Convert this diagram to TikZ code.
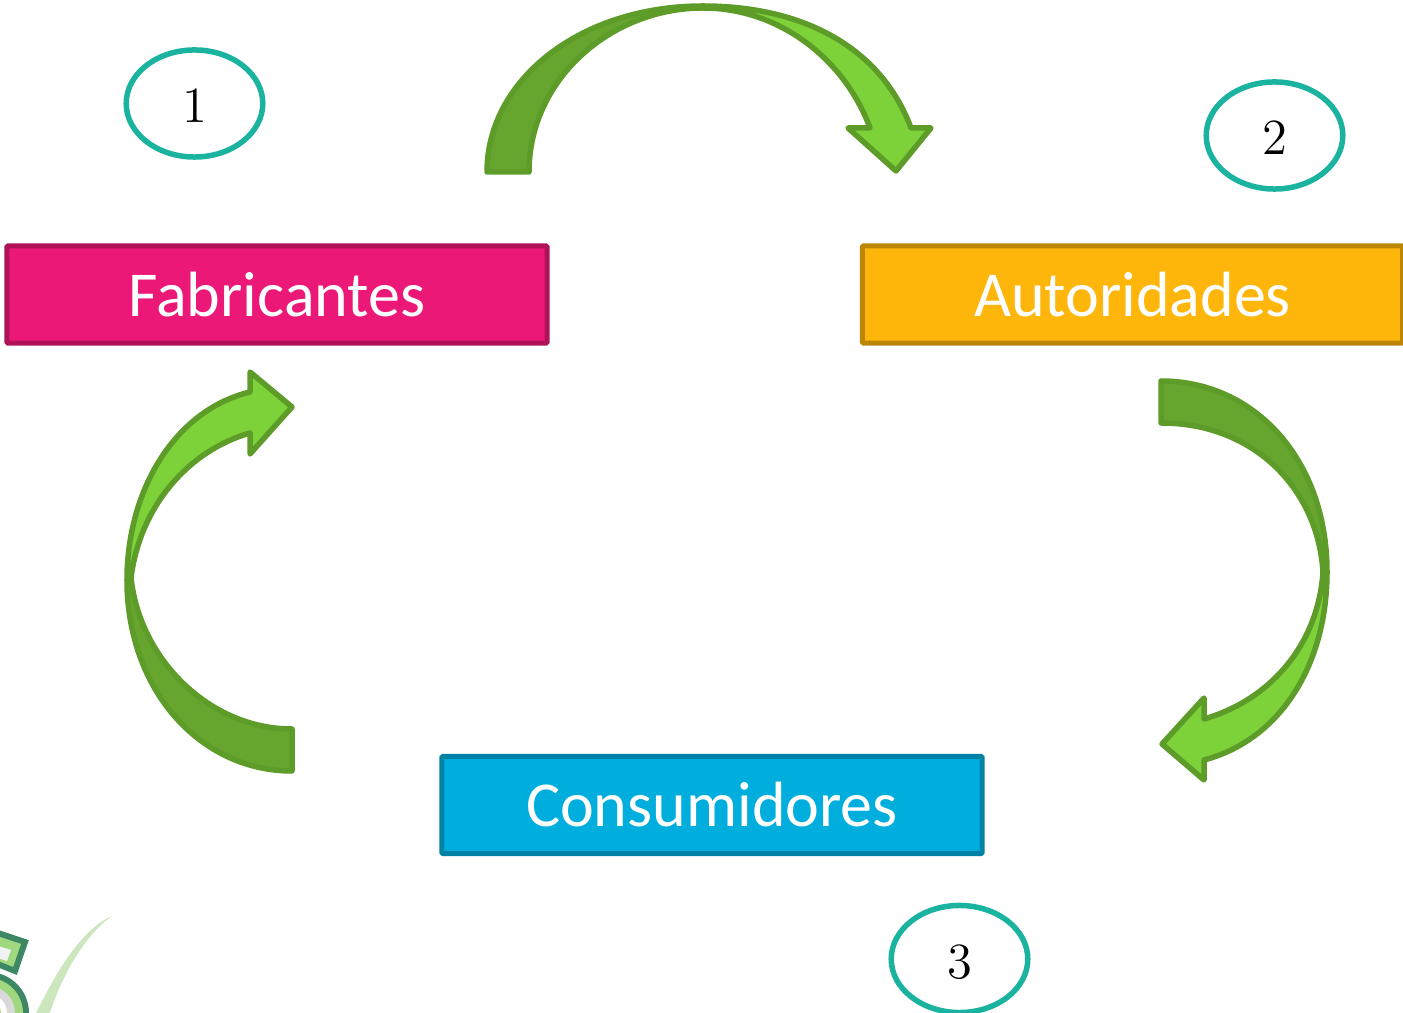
\documentclass[tikz,border=0pt]{standalone}
\usepackage{xcolor}
\usepackage{fontspec}
\setmainfont{Carlito}
\usepackage{tikz}
\usetikzlibrary{positioning, shapes}
\definecolor{mypink}{RGB}{236, 24, 120}
\definecolor{mypinkdark}{RGB}{176, 18, 90}
\definecolor{myorange}{RGB}{255, 182, 11}
\definecolor{myorangedark}{RGB}{188, 135, 8}
\definecolor{myblue}{RGB}{0, 174, 222}
\definecolor{mybluedark}{RGB}{0, 130, 166}
\definecolor{myteal}{RGB}{26, 179, 160}
\definecolor{mygreen}{RGB}{125, 210, 58}
\definecolor{mygreendark}{RGB}{102, 165, 46}
\definecolor{myline}{RGB}{94, 156, 41}
\definecolor{logodark}{RGB}{62, 135, 100}
\definecolor{logolight}{RGB}{160, 216, 128}
\definecolor{logoleaf}{RGB}{204, 230, 190}

\begin{document}
\begin{tikzpicture}[x=0.01cm, y=-0.01cm]
\tikzstyle{actor} = [rectangle, minimum width=5.4cm, minimum height=0.97cm, text centered, line width=0.05cm, text=white, rounded corners=0.3pt, font=\fontsize{18.2}{22}\selectfont]
\tikzstyle{number} = [ellipse, minimum width=1.365cm, minimum height=1.07cm, inner sep=0pt, draw=myteal, fill=white, line width=0.055cm, text height=11pt, text depth=0pt, font=\fontsize{15}{18}\selectfont]
\tikzstyle{bandstart} = [draw=myline, fill=mygreendark, line width=0.055cm, line join=round]
\tikzstyle{bandend} = [draw=myline, fill=mygreen, line width=0.055cm, line join=round]

\useasboundingbox (0,0) rectangle (1403,1013);

\fill[logoleaf] (112,916) .. controls (80,930) and (55,975) .. (36,1013) -- (50,1013) .. controls (62,975) and (85,935) .. (112,916) -- cycle;
\draw[logodark, fill=logolight, line width=0.06cm] (-5,932) -- (25,942) -- (15,971) -- (-5,963) -- cycle;
\fill[white!95!black] (-5,945) -- (11,950) -- (7,961) -- (-5,957) -- cycle;
\fill[logodark] (-12,1013) circle (41);
\fill[logolight] (-12,1013) circle (35);
\fill[white!85!black] (-12,1013) circle (27);
\fill[white] (-12,1013) circle (19);
\fill[logolight] (-12,1013) circle (13);

\node (fabricantes) [actor, draw=mypinkdark, fill=mypink] at (277,294.5) {Fabricantes};
\node (autoridades) [actor, right=3.1cm of fabricantes, draw=myorangedark, fill=myorange] {Autoridades};
\node (consumidores) [actor, draw=mybluedark, fill=myblue] at (712,805) {Consumidores};

\node (uno) [number] at (194.5,103.5) {$1$};
\node (dos) [number] at (1274.5,135.5) {$2$};
\node (tres) [number] at (959.5,959) {$3$};

\draw [bandstart] (487,172) .. controls (487,80) and (580,6) .. (703,6) -- (703,8) .. controls (610,8) and (529,80) .. (529,172) -- cycle;
\draw [bandend] (703,6) .. controls (800,6) and (880,45) .. (911,128) -- (931,128) -- (896,171) -- (848,128) -- (870,128) .. controls (845,60) and (780,8) .. (703,8) -- cycle;

\draw [bandstart] (1161,381) .. controls (1255,381) and (1327,460) .. (1327,572) -- (1323,572) .. controls (1318,490) and (1255,423) .. (1161,423) -- cycle;
\draw [bandend] (1327,572) .. controls (1327,665) and (1280,740) .. (1204,760) -- (1204,780) -- (1162,744) -- (1204,698) -- (1204,719) .. controls (1270,700) and (1318,645) .. (1323,572) -- cycle;

\draw [bandend] (127,580) .. controls (127,490) and (175,410) .. (250,392) -- (250,372) -- (292,407) -- (250,454) -- (250,433) .. controls (190,450) and (140,505) .. (131,578) -- cycle;
\draw [bandstart] (292,771) .. controls (200,771) and (127,690) .. (127,580) -- (131,578) .. controls (140,660) and (210,729) .. (292,729) -- cycle;
\end{tikzpicture}
\end{document}
